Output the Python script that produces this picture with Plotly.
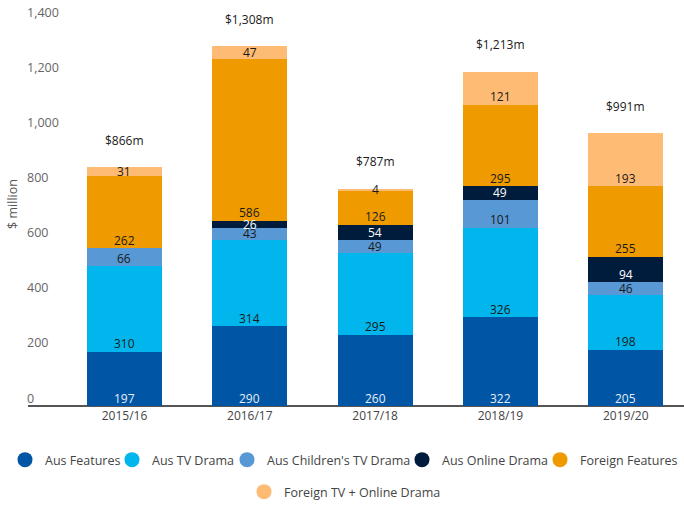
import plotly.graph_objects as go

years = ["2015/16", "2016/17", "2017/18", "2018/19", "2019/20"]
aus_features = [197, 290, 260, 322, 205]
aus_tv_drama = [310, 314, 295, 326, 198]
aus_children = [66, 43, 49, 101, 46]
aus_online = [0, 26, 54, 49, 94]
foreign_features = [262, 586, 126, 295, 255]
foreign_tv_online = [31, 47, 4, 121, 193]
totals = [866, 1308, 787, 1213, 991]
y_ticks = [0, 200, 400, 600, 800, 1000, 1200, 1400]

series = [
    ("Aus Features", aus_features, "#0055a4", "#e8eef6"),
    ("Aus TV Drama", aus_tv_drama, "#00b6ec", "#1a1a1a"),
    ("Aus Children's TV Drama", aus_children, "#5898d4", "#1a1a1a"),
    ("Aus Online Drama", aus_online, "#001c3d", "#ffffff"),
    ("Foreign Features", foreign_features, "#ef9b00", "#1a1a1a"),
    ("Foreign TV + Online Drama", foreign_tv_online, "#fdbb74", "#1a1a1a"),
]

# legend placement (text start x in px, row centre y in px)
legend_pos = [(45, 460), (152, 460), (267, 460), (442, 460), (580, 460), (284, 492)]

FONT = "Open Sans, Noto Sans, sans-serif"
W, H = 684, 505
Y_MIN, Y_MAX = -3, 1470
LABEL_LIFT = 29  # tick labels sit slightly above their value

fig = go.Figure()
layout_legends = {}
bases = [0] * len(years)
for i, (name, vals, color, tcolor) in enumerate(series):
    lid = "legend" if i == 0 else f"legend{i + 1}"
    fig.add_trace(go.Bar(
        x=years, y=vals, name=name, marker=dict(color=color, line=dict(width=0)),
        showlegend=False, hoverinfo="skip",
    ))
    fig.add_trace(go.Scatter(
        x=[None], y=[None], mode="markers", name=name, legend=lid,
        marker=dict(symbol="circle", size=15, color=color),
    ))
    for j, (yr, v) in enumerate(zip(years, vals)):
        if v:
            fig.add_annotation(x=yr, y=bases[j] + min(v / 2, 29), text=str(v), showarrow=False,
                               yanchor="middle", font=dict(size=12, color=tcolor, family=FONT))
        bases[j] += v
    tx, ty = legend_pos[i]
    layout_legends[lid] = dict(
        orientation="h", xref="container", yref="container",
        x=(tx - 40) / W, xanchor="left", y=1 - ty / H, yanchor="middle",
        font=dict(size=12.5, color="#444444", family=FONT), bgcolor="rgba(0,0,0,0)",
    )

# invisible helper trace so the tick-label axis is drawn
fig.add_trace(go.Scatter(x=[years[0]], y=[0], yaxis="y2", mode="markers",
                         marker=dict(opacity=0), showlegend=False, hoverinfo="skip"))

for yr, tot, top in zip(years, totals, bases):
    fig.add_annotation(x=yr, y=top, text=f"${tot:,}m", showarrow=False,
                       yanchor="middle", yshift=27, font=dict(size=12, color="#1a1a1a", family=FONT))

fig.update_layout(
    barmode="stack", bargap=0.4,
    width=W, height=H,
    margin=dict(l=28, r=0, t=1, b=98),
    plot_bgcolor="white", paper_bgcolor="white",
    font=dict(family=FONT, color="#555555", size=12),
    xaxis=dict(range=[-0.77, 4.465], showline=False, ticks="",
               tickfont=dict(size=12, color="#444444"), fixedrange=True),
    yaxis=dict(range=[Y_MIN, Y_MAX], showticklabels=False, showgrid=False,
               zeroline=True, zerolinecolor="#555555", zerolinewidth=1.6),
    yaxis2=dict(overlaying="y", side="left", range=[Y_MIN - LABEL_LIFT, Y_MAX - LABEL_LIFT],
                tickvals=y_ticks, tickformat=",", showgrid=False, zeroline=False,
                ticklabelposition="inside", ticklabelstandoff=-4,
                tickfont=dict(size=12.5, color="#666666"),
                title=dict(text="$ million", font=dict(size=12.5, color="#555555"), standoff=6)),
    **layout_legends,
)

fig.write_html("out.html")
